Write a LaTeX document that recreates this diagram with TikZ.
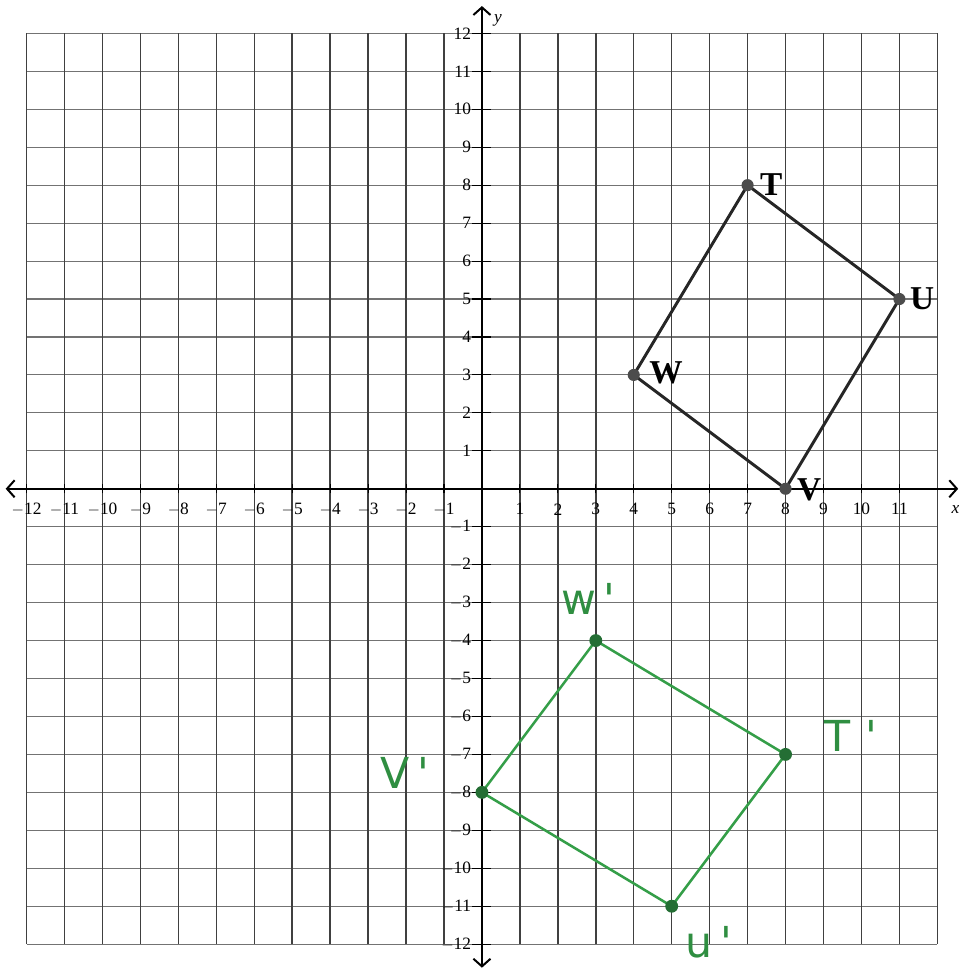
\documentclass[tikz,border=0pt]{standalone}
\usepackage{fontspec}
\setmainfont{Liberation Serif}
\setsansfont{DejaVu Sans}
\usetikzlibrary{arrows.meta,positioning,calc}

\definecolor{penGreen}{RGB}{52,158,72}
\definecolor{dotGreen}{RGB}{36,110,52}

\begin{document}
\begin{tikzpicture}[
    vgrid/.style = {draw=black!75, line width=1.1pt},
    hgrid/.style = {draw=black!55, line width=0.8pt},
    axis/.style = {draw, line width=1.5pt, {Straight Barb[length=2mm,width=4.5mm]}-{Straight Barb[length=2mm,width=4.5mm]}},
    numlabel/.style = {font=\fontsize{13}{15}\selectfont, inner sep=0pt},
    preimg/.style = {draw=black!85, line width=2.2pt, line join=round},
    postimg/.style = {draw=penGreen, line width=1.9pt, line join=round},
    dot/.style = {circle, fill=black!70, inner sep=0pt, minimum size=3.2mm},
    gdot/.style = {circle, fill=dotGreen, inner sep=0pt, minimum size=3.4mm},
    vlabel/.style = {font=\bfseries\fontsize{25}{28}\selectfont, inner sep=0pt},
    hand/.style = {text=penGreen!90!black, font=\sffamily\fontsize{32}{36}\selectfont, inner sep=0pt}
]
    \useasboundingbox (-12.70,-12.76) rectangle (12.62,12.88);

    % Grid
    \foreach \k in {-12,...,12} {
        \path [hgrid] (-12,\k) -- (12,\k);
    }
    \foreach \k in {-12,...,12} {
        \path [vgrid] (\k,-12) -- (\k,12);
    }

    % Axes
    \coordinate (xmin) at (-12.55,0);
    \coordinate (xmax) at (12.55,0);
    \coordinate (ymin) at (0,-12.62);
    \coordinate (ymax) at (0,12.72);
    \path [axis] (xmin) -- (xmax);
    \path [axis] (ymin) -- (ymax);
    \node [font=\itshape\fontsize{13}{15}\selectfont] (xlab) at (12.48,-0.55) {x};
    \node [font=\itshape\fontsize{13}{15}\selectfont] (ylab) at (0.42,12.35) {y};

    % Ticks and numbers
    \foreach \k in {-12,...,-1,1,2,...,11} {
        \draw [line width=0.8pt] (\k,-0.12) -- (\k,0.12);
        \node [numlabel] at (\k,-0.54) {\ifnum\k<0 $-$\the\numexpr-\k\relax\else\k\fi};
    }
    \foreach \k in {-12,...,-1,1,2,...,12} {
        \draw [line width=0.8pt] (-0.25,\k) -- (0.25,\k);
        \node [numlabel, anchor=east] at (-0.28,\k) {\ifnum\k<0 $-$\the\numexpr-\k\relax\else\k\fi};
    }

    % Pre-image TUVW
    \coordinate (T) at (7,8);
    \coordinate (U) at (11,5);
    \coordinate (V) at (8,0);
    \coordinate (W) at (4,3);
    \path [preimg] (T) -- (U) -- (V) -- (W) -- cycle;
    \foreach \p in {T,U,V,W} {
        \node [dot] at (\p) {};
    }
    \node [vlabel] (Tlab) at (7.62,8.02) {T};
    \node [vlabel] (Ulab) at (11.6,5.0) {U};
    \node [vlabel] (Vlab) at (8.62,-0.02) {V};
    \node [vlabel] (Wlab) at (4.85,3.06) {W};

    % Image T'U'V'W'
    \coordinate (Tp) at (8,-7);
    \coordinate (Up) at (5,-11);
    \coordinate (Vp) at (0,-8);
    \coordinate (Wp) at (3,-4);
    \path [postimg] (Tp) -- (Up) -- (Vp) -- (Wp) -- cycle;
    \foreach \p in {Tp,Up,Vp,Wp} {
        \node [gdot] at (\p) {};
    }
    \node [hand] (Tplab) at (9.72,-6.5) {T\,\,\textquotesingle};
    \node [hand] (Uplab) at (5.98,-11.95) {u\,\textquotesingle};
    \node [hand] (Vplab) at (-2.03,-7.5) {V\,\textquotesingle};
    \node [hand] (Wplab) at (2.8,-2.9) {w\,\textquotesingle};

\end{tikzpicture}
\end{document}
